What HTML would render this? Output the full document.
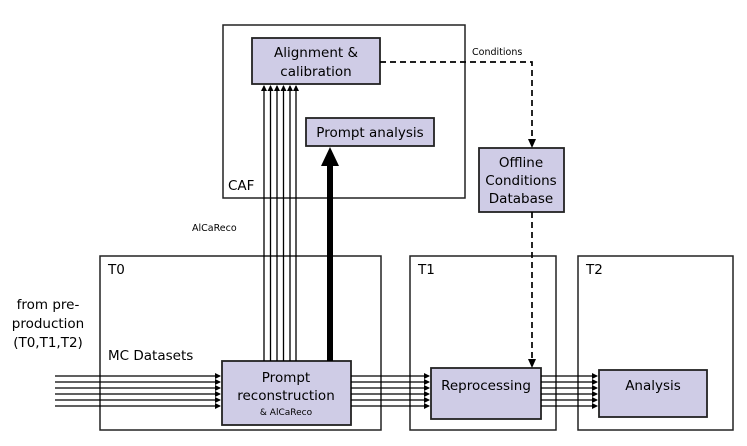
<!DOCTYPE html>
<html><head><style>
body{margin:0;background:#fff;}
svg text{font-family:"DejaVu Sans","Liberation Sans",sans-serif;fill:#000;}
</style></head><body>
<svg width="747" height="441" viewBox="0 0 747 441" xmlns="http://www.w3.org/2000/svg">
<defs>
<marker id="a" markerWidth="6" markerHeight="6" refX="5" refY="3" orient="auto" markerUnits="userSpaceOnUse"><path d="M0,0L6,3L0,6z" fill="#000"/></marker>
</defs>
<g fill="none" stroke="#222" stroke-width="1.5">
<rect x="223" y="25" width="242" height="173"/>
<rect x="100" y="256" width="281" height="174"/>
<rect x="410" y="256" width="146" height="174"/>
<rect x="578" y="256" width="155" height="174"/>
</g>
<g fill="#cfcce6" stroke="#222" stroke-width="1.8">
<rect x="252" y="38" width="128" height="46"/>
<rect x="306" y="118" width="128" height="28"/>
<rect x="479" y="148" width="85" height="64"/>
<rect x="222" y="361" width="129" height="64"/>
<rect x="431" y="368" width="110" height="51"/>
<rect x="599" y="370" width="108" height="47"/>
</g>
<g stroke="#000" stroke-width="1.3">
<line x1="264" y1="361" x2="264" y2="86" marker-end="url(#a)"/>
<line x1="270.5" y1="361" x2="270.5" y2="86" marker-end="url(#a)"/>
<line x1="277" y1="361" x2="277" y2="86" marker-end="url(#a)"/>
<line x1="283.5" y1="361" x2="283.5" y2="86" marker-end="url(#a)"/>
<line x1="290" y1="361" x2="290" y2="86" marker-end="url(#a)"/>
<line x1="296" y1="361" x2="296" y2="86" marker-end="url(#a)"/>
</g>
<line x1="330" y1="361" x2="330" y2="165" stroke="#000" stroke-width="6"/>
<path d="M321,166L330,147L339,166z" fill="#000"/>
<g stroke="#000" stroke-width="1.3">
<line x1="55" y1="376" x2="220" y2="376" marker-end="url(#a)"/>
<line x1="55" y1="382" x2="220" y2="382" marker-end="url(#a)"/>
<line x1="55" y1="388" x2="220" y2="388" marker-end="url(#a)"/>
<line x1="55" y1="394" x2="220" y2="394" marker-end="url(#a)"/>
<line x1="55" y1="400" x2="220" y2="400" marker-end="url(#a)"/>
<line x1="55" y1="406" x2="220" y2="406" marker-end="url(#a)"/>
<line x1="351" y1="376" x2="429" y2="376" marker-end="url(#a)"/>
<line x1="351" y1="382" x2="429" y2="382" marker-end="url(#a)"/>
<line x1="351" y1="388" x2="429" y2="388" marker-end="url(#a)"/>
<line x1="351" y1="394" x2="429" y2="394" marker-end="url(#a)"/>
<line x1="351" y1="400" x2="429" y2="400" marker-end="url(#a)"/>
<line x1="351" y1="406" x2="429" y2="406" marker-end="url(#a)"/>
<line x1="541" y1="376" x2="597" y2="376" marker-end="url(#a)"/>
<line x1="541" y1="382" x2="597" y2="382" marker-end="url(#a)"/>
<line x1="541" y1="388" x2="597" y2="388" marker-end="url(#a)"/>
<line x1="541" y1="394" x2="597" y2="394" marker-end="url(#a)"/>
<line x1="541" y1="400" x2="597" y2="400" marker-end="url(#a)"/>
<line x1="541" y1="406" x2="597" y2="406" marker-end="url(#a)"/>
</g>
<g stroke="#000" stroke-width="1.7" stroke-dasharray="6,4" fill="none">
<path d="M380,62H532V140"/>
<path d="M532,212V360"/>
</g>
<path d="M528,139L532,148L536,139z" fill="#000"/>
<path d="M528,359L532,368L536,359z" fill="#000"/>
<g font-size="13.5" text-anchor="middle">
<text x="316" y="57">Alignment &amp;</text>
<text x="316" y="76">calibration</text>
<text x="370" y="137">Prompt analysis</text>
<text x="521" y="167">Offline</text>
<text x="521" y="185">Conditions</text>
<text x="521" y="203">Database</text>
<text x="286" y="382">Prompt</text>
<text x="286" y="400">reconstruction</text>
<text x="486" y="390">Reprocessing</text>
<text x="653" y="390">Analysis</text>
<text x="48" y="309">from pre-</text>
<text x="48" y="328">production</text>
<text x="48" y="347">(T0,T1,T2)</text>
</g>
<text x="286" y="415" font-size="9" text-anchor="middle">&amp; AlCaReco</text>
<text x="472" y="55" font-size="9.5">Conditions</text>
<text x="192" y="231" font-size="9.5">AlCaReco</text>
<g font-size="13.5">
<text x="228" y="190">CAF</text>
<text x="108" y="274">T0</text>
<text x="418" y="274">T1</text>
<text x="586" y="274">T2</text>
<text x="108" y="360">MC Datasets</text>
</g>
</svg>
</body></html>
